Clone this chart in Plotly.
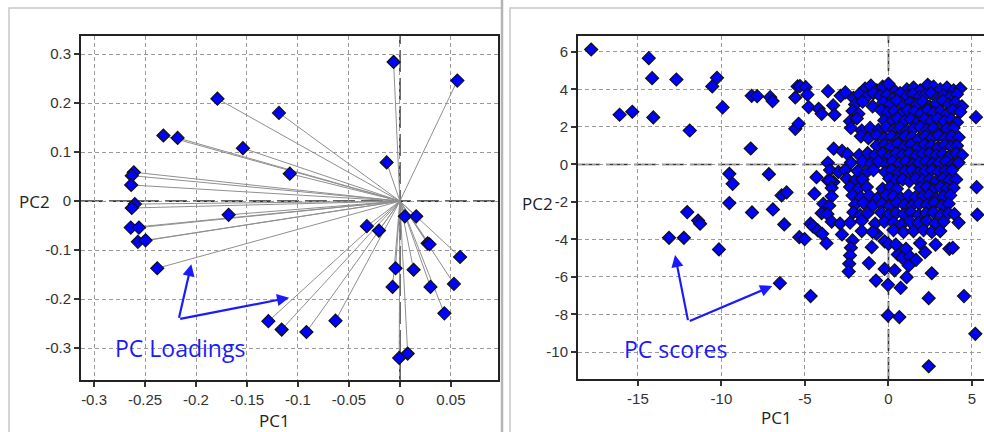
import plotly.graph_objects as go

# ---------------- data: PC loadings (left panel) ----------------
load_pc1 = [-0.179, -0.1186, -0.232, -0.218, -0.154, -0.108, -0.261, -0.263, -0.2636,
            -0.260, -0.263, -0.168, -0.264, -0.256, -0.257, -0.2495, -0.238, -0.129,
            -0.116, -0.0917, -0.0062, 0.0563, -0.013, 0.0049, 0.016, -0.0324, -0.0206,
            0.0272, 0.029, 0.059, -0.0043, 0.0134, -0.0072, 0.030, 0.053, 0.0436, -0.0632,
            0.0076, -0.0007]
load_pc2 = [0.209, 0.180, 0.134, 0.129, 0.108, 0.056, 0.059, 0.052, 0.033,
            -0.006, -0.014, -0.028, -0.054, -0.054, -0.083, -0.080, -0.137, -0.245,
            -0.262, -0.267, 0.284, 0.246, 0.079, -0.031, -0.031, -0.051, -0.060,
            -0.086, -0.088, -0.114, -0.137, -0.140, -0.175, -0.175, -0.169, -0.229, -0.244,
            -0.311, -0.320]

# ---------------- data: PC scores (right panel) ----------------
# isolated / sparse scores
sparse_pc1 = [-17.8, -14.35, -14.15, -12.7, -10.27, -10.55, -16.1, -15.34, -14.08, -9.93,
              -11.9, -9.53, -9.33, -9.53, -12.05, -11.4, -11.28, -13.14, -12.25, -10.15,
              -8.19, -7.86, -7.08, -6.94, -5.58, -5.44, -5.58, -5.38, -8.25, -7.16,
              -6.4, -6.1, -8.17, -6.92, -6.24, -5.34, -5.02, -6.5, -4.66,
              -5.3, -4.96, -4.85, -3.62, -2.86, -2.58, -4.78, -4.18, -4.0, -3.31,
              -3.23, -3.28, -2.78, -3.63, -4.31, -4.43, -3.62, -3.3,
              5.24, 5.28, 5.32, 4.52, 5.2, 2.41, 2.41, -0.03, 0.65,
              -4.67, -4.51, -4.23, -3.97, -3.71, -2.78, -2.15, -2.25, -2.3, -2.35,
              -2.38, -1.0, -1.17, -0.75, -0.23, 0.37, -0.03, 0.73, 1.09, 2.59,
              0.56, 0.82, 1.05, 1.29, 1.21, 1.65, 1.89, 2.19, 2.82, 3.65,
              3.85, -0.7, -0.23, 0.0, 0.44]
sparse_pc2 = [6.13, 5.67, 4.6, 4.53, 4.62, 4.16, 2.65, 2.81, 2.51, 3.04,
              1.81, -0.5, -1.03, -2.06, -2.54, -2.99, -3.16, -3.91, -3.91, -4.53,
              3.66, 3.64, 3.59, 3.38, 3.57, 4.16, 1.9, 2.17, 0.85, -0.52,
              -1.65, -1.49, -2.56, -2.4, -3.2, -3.88, -3.98, -6.33, -7.02,
              4.18, 4.12, 3.72, 3.91, 3.66, 3.84, 3.06, 2.97, 2.7, 3.15,
              2.65, 0.84, 0.72, 0.09, -0.68, -1.56, -0.85, -0.94,
              2.52, -1.21, -2.68, -7.02, -9.03, -10.76, -7.13, -8.05, -8.14,
              -3.16, -3.31, -3.52, -3.7, -4.2, -3.73, -4.05, -4.44, -4.85, -5.3,
              -5.71, -4.41, -5.26, -6.19, -5.57, -5.65, -6.42, -6.58, -6.01, -5.8,
              -4.8, -4.98, -4.5, -4.91, -5.39, -5.09, -4.2, -4.68, -4.27, -4.5,
              -4.44, -3.7, -4.1, -4.24, -4.27]

# dense cluster of scores, read band by band
cluster_pc1 = [
    [-1.4, -1.05, -0.7, -0.35, 0.0, 0.4, 1.1, 1.5, 1.9, 2.35, 2.7, 3.1, 3.5, 3.9, 4.3],
    [-2.1, -1.75, -1.3, -0.9, -0.5, -0.1, 0.3, 0.7, 1.1, 1.45, 1.85, 2.2, 2.55, 2.95, 3.3, 3.7, 4.1],
    [-2.0, -1.55, -0.95, -0.3, 0.1, 0.5, 0.9, 1.3, 1.7, 2.05, 2.45, 2.85, 3.25, 3.6, 4.0, 4.4],
    [-2.15, -1.8, -0.45, -0.05, 0.35, 0.75, 1.15, 1.55, 1.95, 2.35, 2.7, 3.1, 3.5, 3.85, 4.3],
    [-2.3, -1.9, -0.25, 0.15, 0.55, 0.95, 1.35, 1.75, 2.15, 2.55, 2.95, 3.35, 3.75, 4.1],
    [-2.25, -1.6, -1.1, -0.6, -0.15, 0.3, 0.7, 1.1, 1.5, 1.9, 2.3, 2.7, 3.1, 3.5, 3.9],
    [-1.65, -1.2, -0.7, -0.25, 0.2, 0.6, 1.0, 1.4, 1.8, 2.2, 2.6, 3.0, 3.4, 3.8, 4.2],
    [-0.7, -0.25, 0.15, 0.55, 0.95, 1.35, 1.75, 2.15, 2.55, 2.95, 3.35, 3.75, 4.1],
    [-2.45, -1.75, -1.25, -0.8, -0.35, 0.05, 0.45, 0.85, 1.25, 1.65, 2.05, 2.45, 2.85, 3.25, 3.65, 4.05, 4.4],
    [-2.25, -1.55, -1.05, -0.6, -0.15, 0.25, 0.65, 1.05, 1.45, 1.85, 2.25, 2.65, 3.05, 3.45, 3.85, 4.2],
    [-3.5, -3.0, -2.6, -1.85, -1.35, -0.9, -0.2, 0.2, 0.6, 1.0, 1.4, 1.8, 2.2, 2.6, 3.0, 3.4, 3.8],
    [-3.5, -2.5, -2.05, -1.55, 0.05, 0.45, 0.85, 1.25, 1.65, 2.05, 2.45, 2.85, 3.25, 3.65, 4.05],
    [-3.4, -2.3, -1.8, -1.3, -0.35, 0.1, 0.5, 1.9, 2.3, 2.7, 3.1, 3.5, 3.9],
    [-3.4, -2.15, -1.65, -1.15, -0.65, -0.15, 0.3, 0.75, 1.2, 1.6, 2.05, 2.45, 2.85, 3.3, 3.7],
    [-3.9, -3.55, -2.0, -1.5, -0.95, -0.4, 0.05, 0.5, 0.95, 1.4, 1.85, 2.3, 2.75, 3.2, 3.6],
    [-4.0, -3.65, -2.1, -1.7, -1.25, -0.45, 0.0, 0.45, 0.9, 1.35, 1.8, 2.25, 2.7, 3.15, 3.6, 3.95],
    [-3.4, -2.9, -2.3, -1.6, -0.8, -0.25, 0.3, 0.8, 1.3, 1.8, 2.3, 2.8, 3.3, 4.2],
    [-1.6, -0.95, 0.3, 0.9, 1.5, 2.1, 2.6, 3.1],
]
cluster_pc2 = [
    [4.05, 4.2, 3.95, 4.15, 4.3, 3.9, 4.0, 4.1, 3.95, 4.25, 4.15, 4.0, 4.1, 3.95, 4.05],
    [3.55, 3.75, 3.6, 3.8, 3.65, 3.7, 3.55, 3.8, 3.65, 3.75, 3.6, 3.7, 3.8, 3.55, 3.7, 3.6, 3.75],
    [3.2, 3.35, 3.1, 3.3, 3.2, 3.4, 3.15, 3.3, 3.2, 3.35, 3.1, 3.25, 3.4, 3.2, 3.3, 3.1],
    [2.85, 2.7, 2.9, 2.75, 2.85, 2.7, 2.9, 2.8, 2.7, 2.9, 2.75, 2.85, 2.7, 2.9, 2.8],
    [2.3, 2.45, 2.35, 2.25, 2.45, 2.3, 2.4, 2.25, 2.4, 2.3, 2.45, 2.3, 2.4, 2.25],
    [1.95, 1.8, 1.95, 1.85, 2.0, 1.85, 1.95, 1.8, 1.9, 2.0, 1.85, 1.95, 1.8, 1.9, 1.95],
    [1.5, 1.4, 1.55, 1.4, 1.5, 1.35, 1.5, 1.45, 1.35, 1.5, 1.4, 1.55, 1.4, 1.5, 1.45],
    [1.0, 1.05, 0.95, 1.1, 0.95, 1.05, 0.9, 1.05, 1.0, 0.9, 1.05, 0.95, 1.0],
    [0.55, 0.5, 0.6, 0.5, 0.6, 0.45, 0.6, 0.5, 0.6, 0.45, 0.55, 0.6, 0.5, 0.55, 0.45, 0.6, 0.5],
    [0.1, 0.15, 0.05, 0.15, 0.0, 0.15, 0.05, 0.15, 0.0, 0.1, 0.15, 0.05, 0.1, 0.15, 0.0, 0.1],
    [-0.3, -0.4, -0.3, -0.35, -0.45, -0.3, -0.4, -0.3, -0.45, -0.35, -0.3, -0.45, -0.35, -0.3, -0.4, -0.35, -0.3],
    [-0.85, -0.75, -0.9, -0.8, -0.75, -0.85, -0.8, -0.9, -0.75, -0.85, -0.8, -0.9, -0.75, -0.85, -0.8],
    [-1.25, -1.2, -1.3, -1.2, -1.3, -1.2, -1.3, -1.25, -1.2, -1.35, -1.2, -1.3, -1.25],
    [-1.7, -1.65, -1.75, -1.65, -1.8, -1.65, -1.7, -1.8, -1.65, -1.75, -1.7, -1.65, -1.8, -1.7, -1.65],
    [-2.1, -2.2, -2.15, -2.05, -2.2, -2.1, -2.2, -2.05, -2.15, -2.2, -2.1, -2.15, -2.05, -2.2, -2.1],
    [-2.6, -2.65, -2.55, -2.7, -2.6, -2.55, -2.7, -2.6, -2.65, -2.55, -2.7, -2.6, -2.55, -2.7, -2.6, -2.65],
    [-3.05, -3.15, -3.1, -3.0, -3.15, -3.05, -3.1, -3.2, -3.05, -3.1, -3.0, -3.15, -3.05, -3.1],
    [-3.55, -3.6, -3.5, -3.6, -3.55, -3.5, -3.6, -3.55],
]

# tick labels
left_xticks = [-0.3, -0.25, -0.2, -0.15, -0.1, -0.05, 0, 0.05]
left_xtext = ["-0.3", "-0.25", "-0.2", "-0.15", "-0.1", "-0.05", "0", "0.05"]
left_yticks = [0.3, 0.2, 0.1, 0, -0.1, -0.2, -0.3]
left_ytext = ["0.3", "0.2", "0.1", "0", "-0.1", "-0.2", "-0.3"]
right_xticks = [-15, -10, -5, 0, 5]
right_xtext = ["-15", "-10", "-5", "0", "5"]
right_yticks = [6, 4, 2, 0, -2, -4, -6, -8, -10]
right_ytext = ["6", "4", "2", "0", "-2", "-4", "-6", "-8", "-10"]

# ---------------- figure ----------------
W, H = 984, 432
def px(x):
    return x / W
def py(y):
    return 1 - y / H

score_pc1 = list(sparse_pc1)
score_pc2 = list(sparse_pc2)
for xs, ys in zip(cluster_pc1, cluster_pc2):
    score_pc1.extend(xs)
    score_pc2.extend(ys)

line_x, line_y = [], []
for a, b in zip(load_pc1, load_pc2):
    line_x += [0, a, None]
    line_y += [0, b, None]

fig = go.Figure()
fig.add_trace(go.Scatter(x=line_x, y=line_y, mode="lines",
                         line=dict(color="#8f8f8f", width=1),
                         xaxis="x", yaxis="y", hoverinfo="skip", showlegend=False))

marker = dict(symbol="diamond", size=10, color="#0000ff",
              line=dict(color="#111111", width=1.2))
fig.add_trace(go.Scatter(x=load_pc1, y=load_pc2, mode="markers", marker=marker,
                         xaxis="x", yaxis="y", showlegend=False))
fig.add_trace(go.Scatter(x=score_pc1, y=score_pc2, mode="markers", marker=marker,
                         xaxis="x2", yaxis="y2", showlegend=False))

tickfont = dict(family="Liberation Sans, Arial, sans-serif", size=15, color="#333333")
grid = dict(showgrid=True, gridcolor="#9a9a9a", gridwidth=1, griddash="4px,3px",
            zeroline=False, ticks="outside", ticklen=5, tickwidth=1.5, tickcolor="#333",
            showline=True, linecolor="#222222", linewidth=2, tickfont=tickfont,
            fixedrange=True)

fig.update_layout(
    width=W, height=H,
    margin=dict(l=0, r=0, t=0, b=0),
    paper_bgcolor="white", plot_bgcolor="white",
    xaxis=dict(domain=[px(81), px(498)], range=[-0.3128, 0.0962],
               tickvals=left_xticks, ticktext=left_xtext, mirror=True, anchor="y", **grid),
    yaxis=dict(domain=[py(380), py(36)], range=[-0.365, 0.337],
               tickvals=left_yticks, ticktext=left_ytext, mirror=True, anchor="x", **grid),
    xaxis2=dict(domain=[px(578), 1.0], range=[-18.59, 5.72],
                tickvals=right_xticks, ticktext=right_xtext, mirror=True, anchor="y2", **grid),
    yaxis2=dict(domain=[py(379), py(36)], range=[-11.44, 6.85],
                tickvals=right_yticks, ticktext=right_ytext, mirror=False, anchor="x2", **grid),
)

zl = dict(color="#333333", width=1.6, dash="22px,6px")
shapes = [
    dict(type="line", xref="x domain", yref="y", x0=0, x1=1, y0=0, y1=0, line=zl, layer="below"),
    dict(type="line", xref="x", yref="y domain", x0=0, x1=0, y0=0, y1=1, line=zl, layer="below"),
    dict(type="line", xref="x2 domain", yref="y2", x0=0, x1=1, y0=0, y1=0, line=zl, layer="below"),
    dict(type="line", xref="x2", yref="y2 domain", x0=0, x1=0, y0=0, y1=1, line=zl, layer="below"),
    # window frames
    dict(type="rect", xref="paper", yref="paper", x0=px(9), x1=px(502), y0=py(434), y1=py(8),
         line=dict(color="#c8c8c8", width=1.5)),
    dict(type="line", xref="paper", yref="paper", x0=px(502), x1=px(502), y0=py(434), y1=py(0),
         line=dict(color="#b5b5b5", width=2.5)),
    dict(type="rect", xref="paper", yref="paper", x0=px(510), x1=px(990), y0=py(434), y1=py(8),
         line=dict(color="#c8c8c8", width=1.5)),
]
fig.update_layout(shapes=shapes)

title_font = dict(family="Open Sans, sans-serif", size=17, color="#222222")
label_font = dict(family="Open Sans, sans-serif", size=23, color="#1a1aff")
c = dict(xref="paper", yref="paper", showarrow=False, xanchor="center", yanchor="middle")
ann = [
    dict(text="PC2", x=px(34), y=py(201), font=title_font, **c),
    dict(text="PC1", x=px(274), y=py(420), font=title_font, **c),
    dict(text="PC2", x=px(537), y=py(203), font=title_font, **c),
    dict(text="PC1", x=px(776), y=py(417), font=title_font, **c),
    dict(text="PC Loadings", x=px(180), y=py(348), font=label_font, **c),
    dict(text="PC scores", x=px(675), y=py(349), font=label_font, **c),
]
arrow = dict(showarrow=True, arrowhead=2, arrowsize=1.1, arrowwidth=2.2, arrowcolor="#1a1aff", text="")
ann += [
    dict(x=-0.2046, y=-0.1286, ax=-0.217, ay=-0.241, xref="x", yref="y", axref="x", ayref="y", **arrow),
    dict(x=-0.1087, y=-0.197, ax=-0.217, ay=-0.241, xref="x", yref="y", axref="x", ayref="y", **arrow),
    dict(x=-12.78, y=-4.83, ax=-11.99, ay=-8.38, xref="x2", yref="y2", axref="x2", ayref="y2", **arrow),
    dict(x=-6.96, y=-6.48, ax=-11.99, ay=-8.38, xref="x2", yref="y2", axref="x2", ayref="y2", **arrow),
]
fig.update_layout(annotations=ann)

fig.write_html("out.html")
